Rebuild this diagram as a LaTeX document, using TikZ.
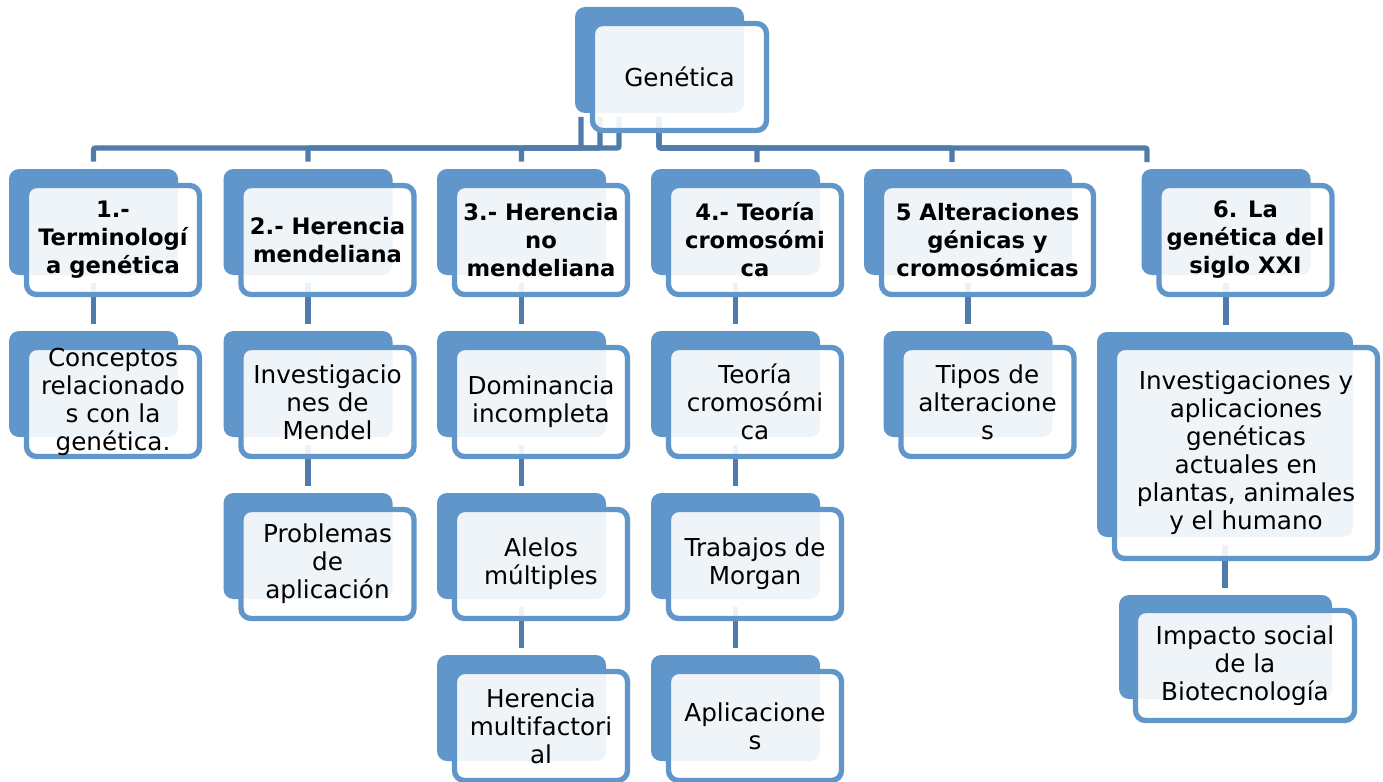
\documentclass[tikz,border=0pt]{standalone}
\usepackage{fontspec}
\setmainfont{DejaVu Sans}

\definecolor{boxblue}{RGB}{97,150,202}
\definecolor{linkblue}{RGB}{79,124,170}

\tikzset{
	backbox/.style 2 args={fill=boxblue, rounded corners=7.5pt, inner sep=0pt,
		minimum width=#1*0.75pt, minimum height=#2*0.75pt},
	frontbox/.style 2 args={draw=boxblue, line width=4pt, fill=white, fill opacity=0.9,
		text opacity=1, rounded corners=7.5pt, inner sep=0pt, align=center,
		minimum width=#1*0.75pt, minimum height=#2*0.75pt,
		font=\fontsize{18.5}{21}\selectfont},
	headbox/.style 2 args={frontbox={#1}{#2}, font=\fontsize{17}{21}\selectfont\bfseries},
	link/.style={draw=linkblue, line width=4pt, rounded corners=1.5pt}}
\tikzset{every picture/.style={line width=0.75pt}}

\begin{document}
\begin{tikzpicture}[x=0.75pt,y=0.75pt,yscale=-1,xscale=1]
	\useasboundingbox (0,0) rectangle (1383,781);

	%Back Rects
	\node [backbox={169}{106}] (bgen) at (659.5,60) {};
	\node [backbox={169}{106}] (b11) at (93.5,222) {};
	\node [backbox={169}{106}] (b12) at (93.5,384) {};
	\node [backbox={169}{106}] (b21) at (308,222) {};
	\node [backbox={169}{106}] (b22) at (308,384) {};
	\node [backbox={169}{106}] (b23) at (308,546) {};
	\node [backbox={169}{106}] (b31) at (521.5,222) {};
	\node [backbox={169}{106}] (b32) at (521.5,384) {};
	\node [backbox={169}{106}] (b33) at (521.5,546) {};
	\node [backbox={169}{106}] (b34) at (521.5,708) {};
	\node [backbox={169}{106}] (b41) at (735.5,222) {};
	\node [backbox={169}{106}] (b42) at (735.5,384) {};
	\node [backbox={169}{106}] (b43) at (735.5,546) {};
	\node [backbox={169}{106}] (b44) at (735.5,708) {};
	\node [backbox={208}{106}] (b51) at (968,222) {};
	\node [backbox={169}{106}] (b52) at (968,384) {};
	\node [backbox={169}{106}] (b61) at (1226,222) {};
	\node [backbox={256}{205}] (b62) at (1225,434.5) {};
	\node [backbox={213}{104}] (b63) at (1225.5,647) {};

	%Link ends
	\coordinate (g1) at (581,117);
	\coordinate (g2) at (600,117);
	\coordinate (g3) at (619,117);
	\coordinate (g4) at (659,117);
	\coordinate (d4) at (757,162);
	\coordinate (d5) at (952,162);
	\coordinate (d6) at (1147,162);

	%Links from Genética
	\draw [link, shorten >=5.25pt] (g1) -- ++(0,31) -| (b11.north);
	\draw [link, shorten >=5.25pt] (g2) -- ++(0,31) -| (b21.north);
	\draw [link, shorten >=5.25pt] (g3) -- ++(0,31) -| (b31.north);
	\draw [link] (g4) -- ++(0,31) -| (d4);
	\draw [link] (g4) -- ++(0,31) -| (d5);
	\draw [link] (g4) -- ++(0,31) -| (d6);
	%Links down the columns
	\draw [link, shorten <=5.25pt, shorten >=5.25pt] (b11.south) -- (b12.north);
	\draw [link, shorten <=5.25pt, shorten >=5.25pt] (b21.south) -- (b22.north);
	\draw [link, shorten <=5.25pt, shorten >=5.25pt] (b22.south) -- (b23.north);
	\draw [link, shorten <=5.25pt, shorten >=5.25pt] (b31.south) -- (b32.north);
	\draw [link, shorten <=5.25pt, shorten >=5.25pt] (b32.south) -- (b33.north);
	\draw [link, shorten <=5.25pt, shorten >=5.25pt] (b33.south) -- (b34.north);
	\draw [link, shorten <=5.25pt, shorten >=5.25pt] (b41.south) -- (b42.north);
	\draw [link, shorten <=5.25pt, shorten >=5.25pt] (b42.south) -- (b43.north);
	\draw [link, shorten <=5.25pt, shorten >=5.25pt] (b43.south) -- (b44.north);
	\draw [link, shorten <=5.25pt, shorten >=5.25pt] (b51.south) -- (b52.north);
	\draw [link, shorten <=5.25pt, shorten >=5.25pt] (b61.south) -- (b61.south |- b62.north);
	\draw [link, shorten <=5.25pt, shorten >=5.25pt] (b62.south) -- (b62.south |- b63.north);

	% Text Nodes
	\node [frontbox={174}{107}] (fgen) at (679.5,77) {Genética};
	\node [headbox={173}{109}] (f11) at (113,240) {1.-\\Terminologí\\a genética};
	\node [frontbox={173}{109}] (f12) at (113,402) {Conceptos\\relacionado\\s con la\\genética.};
	\node [headbox={173}{109}] (f21) at (327.5,240) {2.- Herencia\\mendeliana};
	\node [frontbox={173}{109}] (f22) at (327.5,402) {Investigacio\\nes de\\Mendel};
	\node [frontbox={173}{109}] (f23) at (327.5,564) {Problemas\\de\\aplicación};
	\node [headbox={173}{109}] (f31) at (541,240) {3.- Herencia\\no\\mendeliana};
	\node [frontbox={173}{109}] (f32) at (541,402) {Dominancia\\incompleta};
	\node [frontbox={173}{109}] (f33) at (541,564) {Alelos\\múltiples};
	\node [frontbox={173}{109}] (f34) at (541,726) {Herencia\\multifactori\\al};
	\node [headbox={173}{109}] (f41) at (755,240) {4.- Teoría\\cromosómi\\ca};
	\node [frontbox={173}{109}] (f42) at (755,402) {Teoría\\cromosómi\\ca};
	\node [frontbox={173}{109}] (f43) at (755,564) {Trabajos de\\Morgan};
	\node [frontbox={173}{109}] (f44) at (755,726) {Aplicacione\\s};
	\node [headbox={212}{109}] (f51) at (987.5,240) {5 Alteraciones\\génicas y\\cromosómicas};
	\node [frontbox={173}{109}] (f52) at (987.5,402) {Tipos de\\alteracione\\s};
	\node [headbox={173}{109}] (f61) at (1245.5,240) {6. La\\genética del\\siglo XXI};
	\node [frontbox={263}{211}] (f62) at (1246,453) {Investigaciones y\\aplicaciones\\genéticas\\actuales en\\plantas, animales\\y el humano};
	\node [frontbox={219}{110}] (f63) at (1245,665.5) {Impacto social\\de la\\Biotecnología};

\end{tikzpicture}
\end{document}
